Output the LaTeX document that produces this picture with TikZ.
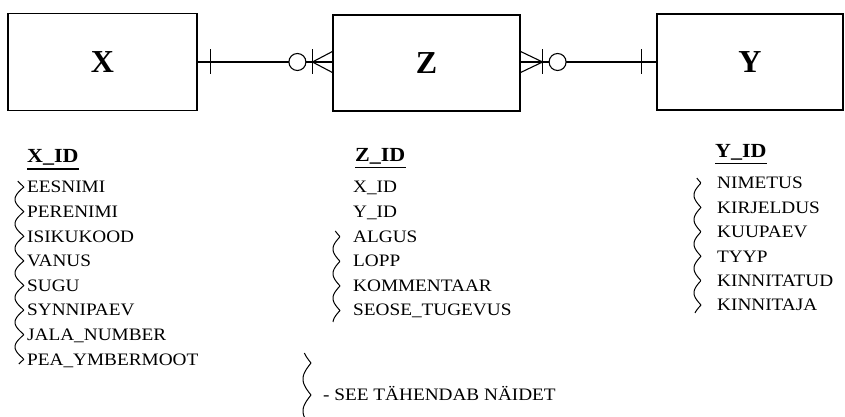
\documentclass[tikz,border=0pt]{standalone}
\usepackage{fontspec}
\setmainfont{Liberation Serif}
\newfontfamily\erdfont{Liberation Serif}[FakeStretch=1.1]
\usetikzlibrary{positioning,calc}
\tikzset{
  entity/.style={draw, line width=1.2pt, inner sep=0pt, font=\fontsize{32}{36}\selectfont\bfseries},
  attr/.style={anchor=base west, inner sep=0pt, font=\erdfont\fontsize{17.5}{21}\selectfont},
  keyattr/.style={attr, font=\erdfont\fontsize{20}{23}\selectfont\bfseries},
  keyline/.style={line width=1.4pt},
  rel/.style={line width=1.1pt},
  braceline/.style={line width=1pt, line join=round}
}
% wavy bracket: x0, width, y from, y to, cusp y, period
\newcommand{\attrbrace}[6]{%
  \draw[braceline] plot[domain=#3:#4, samples=120, smooth] ({#1+#2*(1-abs(sin((\x-#5)/#6*180)))}, \x);}

\begin{document}
\begin{tikzpicture}[x=1pt, y=-1pt]
  \useasboundingbox (0,0) rectangle (845,417);

  % entities
  \node[entity, minimum width=189pt, minimum height=97pt] (X) at (102.5,62) {X};
  \node[entity, minimum width=187pt, minimum height=96pt] (Z) at (426.5,63) {Z};
  \node[entity, minimum width=186pt, minimum height=96pt] (Y) at (750,62) {Y};

  % X -- Z
  \draw[rel] (X.east) -- (X.east -| Z.west);
  \draw[rel] ([xshift=13pt]X.east) ++(0,-12.5) -- ++(0,25);
  \draw[rel] ([xshift=-20pt]Z.west |- X.east) ++(0,-12.5) -- ++(0,25);
  \draw[rel] ([xshift=-20pt]Z.west |- X.east) -- ([yshift=10.5pt]Z.west |- X.east);
  \draw[rel] ([xshift=-20pt]Z.west |- X.east) -- ([yshift=-10.5pt]Z.west |- X.east);
  \draw[rel, fill=white] ([xshift=-35pt]Z.west |- X.east) circle (8.5pt);

  % Z -- Y
  \draw[rel] (Y.west -| Z.east) -- (Y.west);
  \draw[rel] ([xshift=-15pt]Y.west) ++(0,-12.5) -- ++(0,25);
  \draw[rel] ([xshift=22pt]Z.east |- Y.west) ++(0,-12.5) -- ++(0,25);
  \draw[rel] ([xshift=22pt]Z.east |- Y.west) -- ([yshift=10.5pt]Z.east |- Y.west);
  \draw[rel] ([xshift=22pt]Z.east |- Y.west) -- ([yshift=-10.5pt]Z.east |- Y.west);
  \draw[rel, fill=white] ([xshift=37pt]Z.east |- Y.west) circle (8.5pt);

  % attributes of X
  \node[keyattr] (xid) at (27,162.3) {X\_ID};
  \draw[keyline] ([yshift=-6.7pt]xid.base west) -- ([yshift=-6.7pt]xid.base east);
  \foreach \name [count=\i] in {EESNIMI,PERENIMI,ISIKUKOOD,VANUS,SUGU,SYNNIPAEV,JALA\_NUMBER,PEA\_YMBERMOOT}
    \node[attr] (x\i) at (27,168.2+24.6*\i) {\name};
  \attrbrace{15}{9}{181}{364}{187}{24.6}

  % attributes of Z
  \node[keyattr] (zid) at (355,161) {Z\_ID};
  \draw[keyline] ([yshift=-6.7pt]zid.base west) -- ([yshift=-6.7pt]zid.base east);
  \foreach \name [count=\i] in {X\_ID,Y\_ID,ALGUS,LOPP,KOMMENTAAR,SEOSE\_TUGEVUS}
    \node[attr] (z\i) at (353,168.2+24.6*\i) {\name};
  \attrbrace{333}{7}{231}{322}{236.7}{24.6}

  % attributes of Y
  \node[keyattr] (yid) at (715,157) {Y\_ID};
  \draw[keyline] ([yshift=-6.7pt]yid.base west) -- ([yshift=-6.7pt]yid.base east);
  \foreach \name [count=\i] in {NIMETUS,KIRJELDUS,KUUPAEV,TYYP,KINNITATUD,KINNITAJA}
    \node[attr] (y\i) at (717,164.4+24.4*\i) {\name};
  \attrbrace{694}{7}{178}{313}{183}{24.4}

  % legend
  \attrbrace{303}{8}{353}{417}{395}{32}
  \node[attr] (legend) at (323,400.8) {- SEE TÄHENDAB NÄIDET};
\end{tikzpicture}
\end{document}
